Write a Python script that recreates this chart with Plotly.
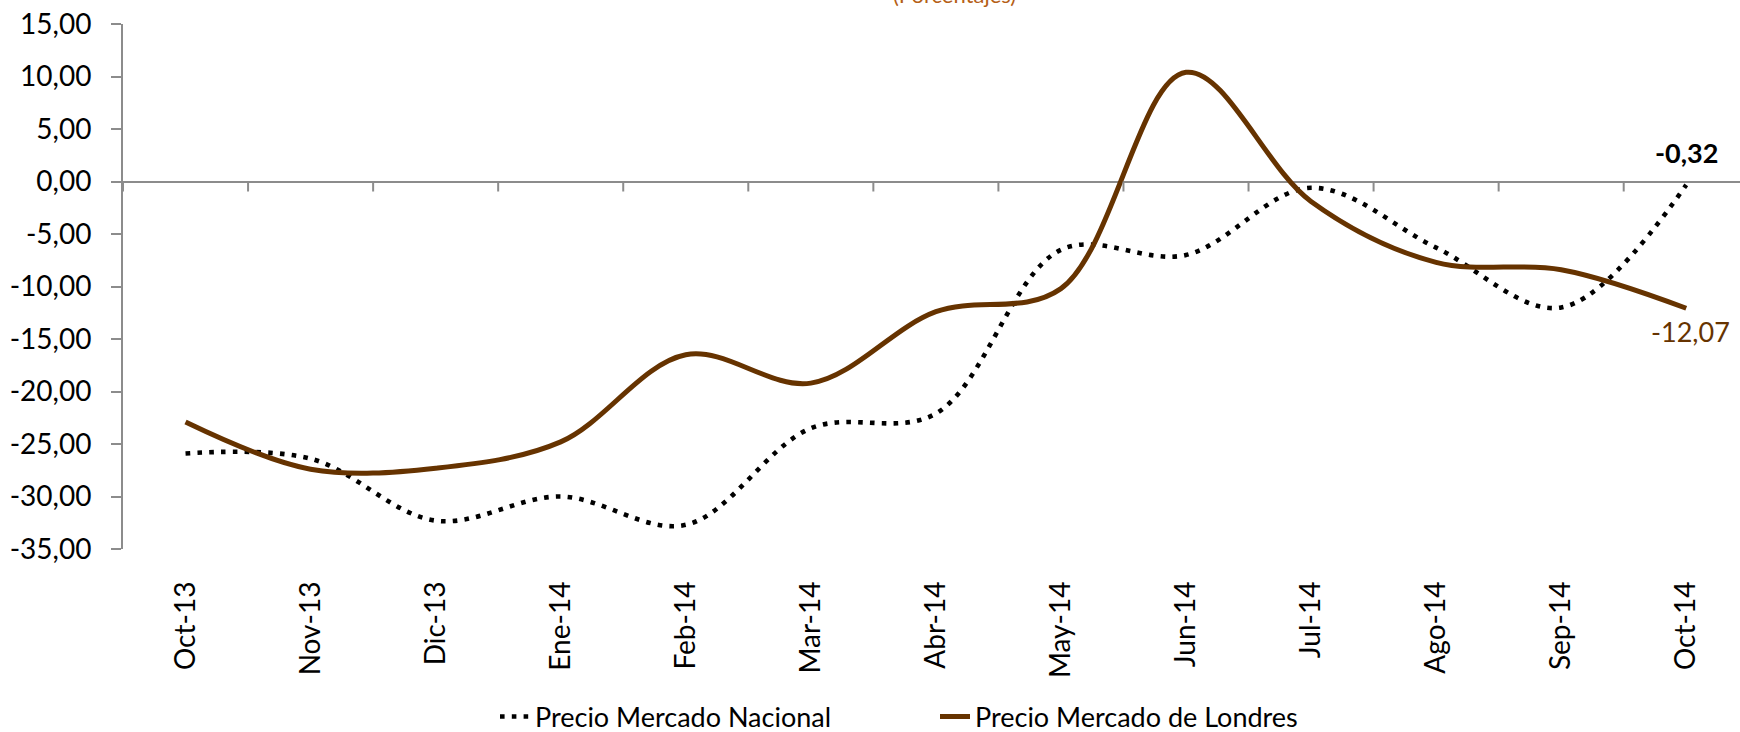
import plotly.graph_objects as go

# Monthly variation (%) of two coffee price series
meses = ["Oct-13", "Nov-13", "Dic-13", "Ene-14", "Feb-14", "Mar-14", "Abr-14",
         "May-14", "Jun-14", "Jul-14", "Ago-14", "Sep-14", "Oct-14"]
nacional = [-25.9, -26.4, -32.3, -30.0, -32.7, -23.5, -22.1,
            -6.5, -7.0, -0.6, -6.3, -12.0, -0.32]
londres = [-22.9, -27.4, -27.3, -24.8, -16.5, -19.2, -12.4,
           -10.2, 10.4, -1.9, -7.7, -8.4, -12.07]

y_ticks = [15, 10, 5, 0, -5, -10, -15, -20, -25, -30, -35]
y_labels = [f"{v:.2f}".replace(".", ",") for v in y_ticks]

FONT = "Lato, Liberation Sans, Arial, sans-serif"
BROWN = "#663300"
AXIS_GRAY = "#8c8c8c"

fig = go.Figure()

fig.add_trace(go.Scatter(
    x=meses, y=nacional, mode="lines", name="Precio Mercado Nacional",
    line=dict(color="black", width=4.6, dash="4.6px,7.2px",
              shape="spline", smoothing=1.0),
    hoverinfo="x+y",
))
fig.add_trace(go.Scatter(
    x=meses, y=londres, mode="lines", name="Precio Mercado de Londres",
    line=dict(color=BROWN, width=5, shape="spline", smoothing=1.0),
    hoverinfo="x+y",
))

# tick marks hanging below the zero line, between categories
for k in range(len(meses) + 1):
    fig.add_shape(type="line", xref="x", yref="y",
                  x0=k - 0.5, x1=k - 0.5,
                  ysizemode="pixel", yanchor=0, y0=0, y1=-10,
                  line=dict(color=AXIS_GRAY, width=2))

# value labels on the last month
last = len(meses) - 1
fig.add_annotation(x=meses[last], y=nacional[last],
                   text=f"<b>{nacional[last]:.2f}</b>".replace(".", ","),
                   showarrow=False, yshift=32, xshift=0,
                   font=dict(family=FONT, size=27, color="black"))
fig.add_annotation(x=meses[last], y=londres[last],
                   text=f"{londres[last]:.2f}".replace(".", ","),
                   showarrow=False, yshift=-23, xshift=4,
                   font=dict(family=FONT, size=27, color=BROWN))

# subtitle
fig.add_annotation(xref="paper", yref="paper", x=0.5144, y=1.0275,
                   xanchor="center", yanchor="bottom",
                   text="(Porcentajes)", showarrow=False,
                   font=dict(family=FONT, size=22, color="#B55F17"))

fig.update_layout(
    width=1740, height=732,
    margin=dict(l=123, r=0, t=24, b=183),
    paper_bgcolor="white", plot_bgcolor="white",
    font=dict(family=FONT, color="black"),
    showlegend=True,
    legend=dict(orientation="h", xref="container", yref="container",
                x=495 / 1740, xanchor="left", y=1 - 717 / 732, yanchor="middle",
                font=dict(family=FONT, size=27, color="black"),
                entrywidth=395, entrywidthmode="pixels",
                bgcolor="rgba(0,0,0,0)"),
    xaxis=dict(type="category", range=[-0.5, 12.43],
               tickangle=-90, ticks="", showline=False, showgrid=False,
               zeroline=False, ticklabelstandoff=26,
               tickfont=dict(family=FONT, size=28, color="black")),
    yaxis=dict(range=[-35, 15], tickmode="array", tickvals=y_ticks,
               ticktext=y_labels, showgrid=False,
               showline=True, linecolor=AXIS_GRAY, linewidth=2,
               ticks="outside", ticklen=10, tickwidth=2, tickcolor=AXIS_GRAY,
               zeroline=True, zerolinecolor=AXIS_GRAY, zerolinewidth=2,
               ticklabelstandoff=14,
               tickfont=dict(family=FONT, size=28, color="black")),
)

fig.write_html("out.html")
